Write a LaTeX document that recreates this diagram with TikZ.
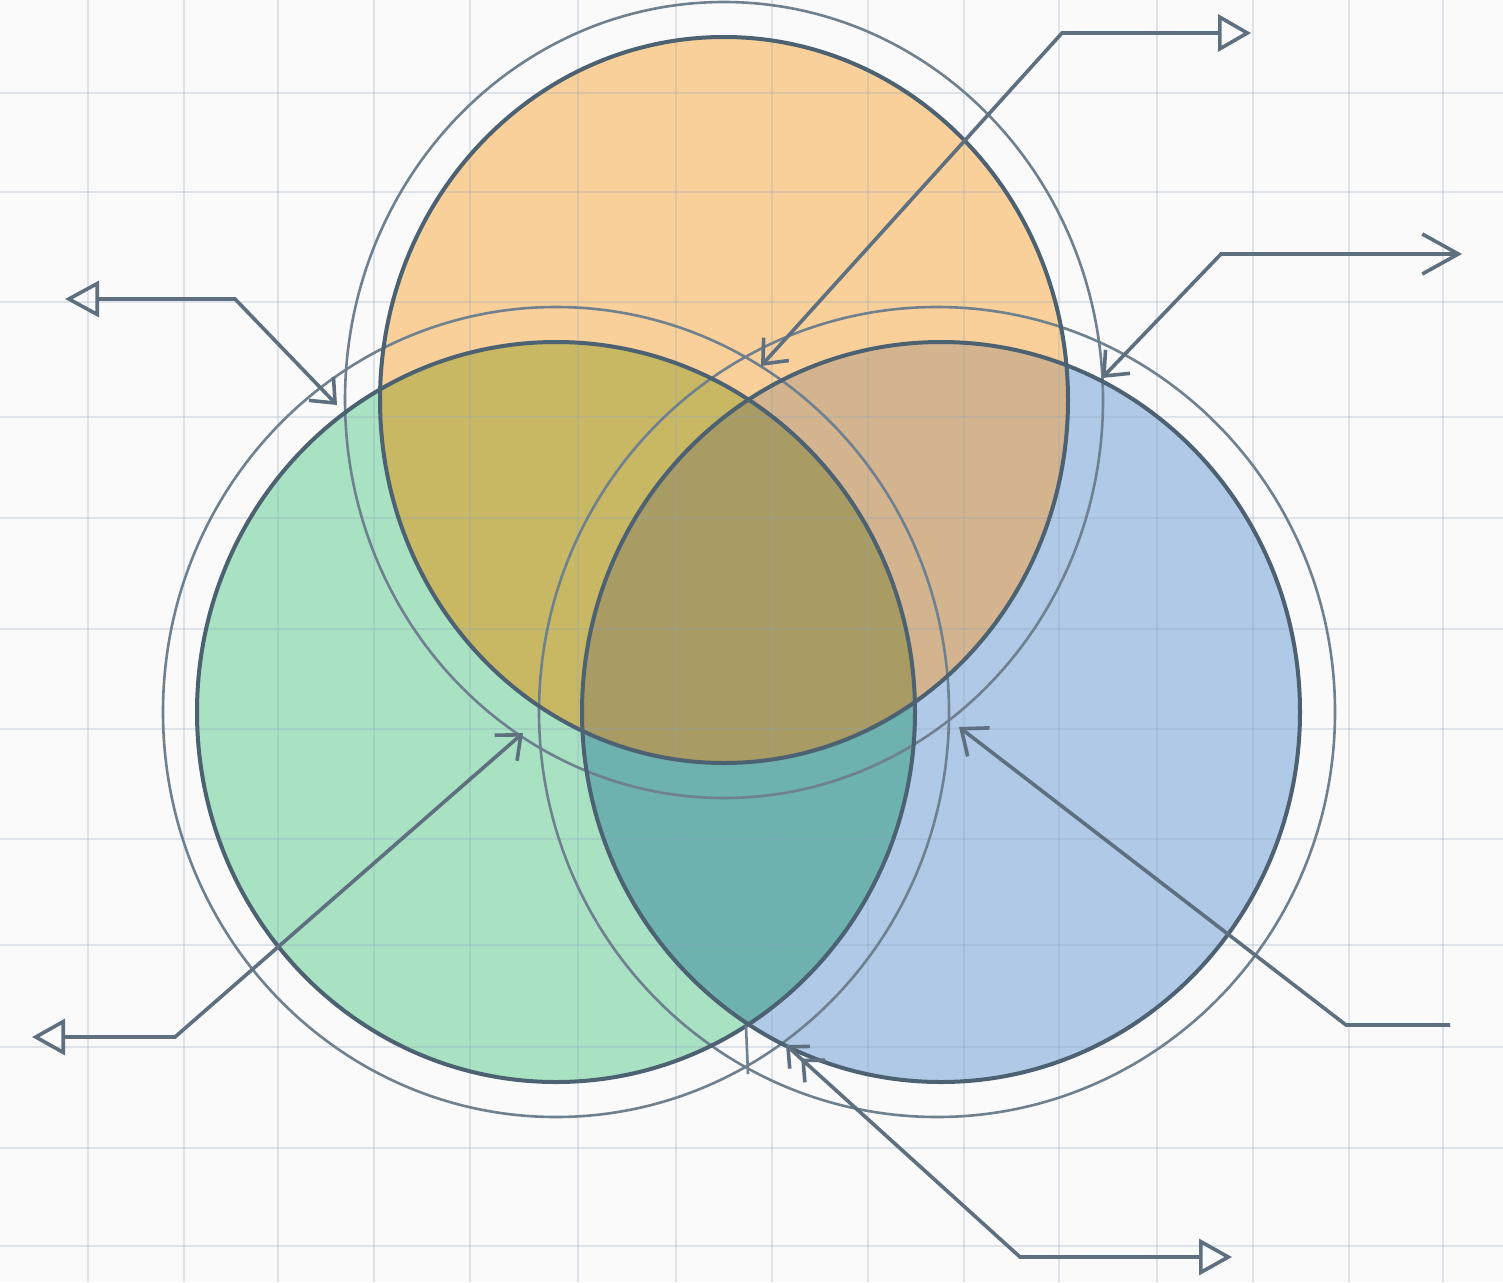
\documentclass[tikz,border=0pt]{standalone}
\usetikzlibrary{arrows.meta}
\definecolor{bgc}{HTML}{FAFAFA}
\definecolor{gridc}{HTML}{8FA3BC}
\definecolor{cOr}{HTML}{F9D09A}
\definecolor{cGr}{HTML}{A8E2C3}
\definecolor{cBl}{HTML}{B0C9E6}
\definecolor{cOG}{HTML}{C8B864}
\definecolor{cOB}{HTML}{D4B48F}
\definecolor{cGB}{HTML}{6DB2AF}
\definecolor{cOGB}{HTML}{A89B63}
\definecolor{edgec}{HTML}{4C6272}
\definecolor{ringc}{HTML}{6F808F}
\definecolor{connc}{HTML}{5E7080}
\tikzset{
  gridline/.style={draw=gridc, opacity=0.26, line width=1.6pt},
  edge/.style={draw=edgec, line width=4pt},
  ring/.style={draw=ringc, line width=2.6pt},
  conn/.style={draw=connc, line width=3.6pt, line join=miter},
}
\begin{document}
\begin{tikzpicture}[x=1pt,y=-1pt]
\useasboundingbox (0,0) rectangle (1503,1282);
\fill[bgc] (0,0) rectangle (1503,1282);

\coordinate (cO) at (724,400);
\coordinate (cG) at (556,712);
\coordinate (cB) at (941,712);
\coordinate (rO) at (724,400);
\coordinate (rG) at (556,712);
\coordinate (rB) at (937,712);

% base fills
\fill[cGr] (cG) ellipse [x radius=359pt, y radius=370pt];
\fill[cBl] (cB) ellipse [x radius=359pt, y radius=370pt];
\fill[cOr] (cO) ellipse [x radius=344pt, y radius=363pt];
% overlaps
\begin{scope}
  \clip (cG) ellipse [x radius=359pt, y radius=370pt];
  \fill[cGB] (cB) ellipse [x radius=359pt, y radius=370pt];
\end{scope}
\begin{scope}
  \clip (cO) ellipse [x radius=344pt, y radius=363pt];
  \fill[cOG] (cG) ellipse [x radius=359pt, y radius=370pt];
\end{scope}
\begin{scope}
  \clip (cO) ellipse [x radius=344pt, y radius=363pt];
  \fill[cOB] (cB) ellipse [x radius=359pt, y radius=370pt];
\end{scope}
\begin{scope}
  \clip (cO) ellipse [x radius=344pt, y radius=363pt];
  \clip (cG) ellipse [x radius=359pt, y radius=370pt];
  \fill[cOGB] (cB) ellipse [x radius=359pt, y radius=370pt];
\end{scope}

% grid
\foreach \gx in {88,184,278,374,470,578,676,772,868,964,1059,1157,1253,1349,1443}
  \draw[gridline] (\gx,0) -- (\gx,1282);
\foreach \gy in {93,192,302,417,518,629,729,839,945,1047,1148,1246}
  \draw[gridline] (0,\gy) -- (1503,\gy);

% rings
\draw[ring] (rO) ellipse [x radius=379pt, y radius=398pt];
\draw[ring] (rG) ellipse [x radius=393pt, y radius=405pt];
\draw[ring] (rB) ellipse [x radius=398pt, y radius=405pt];

% circle outlines
\draw[edge] (cG) ellipse [x radius=359pt, y radius=370pt];
\draw[edge] (cB) ellipse [x radius=359pt, y radius=370pt];
\draw[edge] (cO) ellipse [x radius=344pt, y radius=363pt];

% connectors
\coordinate (a1) at (761,366);
\coordinate (a1c) at (1062,33);
\coordinate (a1e) at (1251,33);
\draw[conn, {Straight Barb[length=20pt,width=34pt]}-{Triangle[open,length=33pt,width=37pt]}] (a1) -- (a1c) -- (a1e);

\coordinate (a2) at (1102,378);
\coordinate (a2c) at (1221,254);
\coordinate (a2e) at (1462,254);
\draw[conn, {Straight Barb[length=20pt,width=34pt]}-{Straight Barb[length=36pt,width=40pt]}] (a2) -- (a2c) -- (a2e);

\coordinate (a3) at (337,405);
\coordinate (a3c) at (235,299);
\coordinate (a3e) at (65,299);
\draw[conn, {Straight Barb[length=20pt,width=34pt]}-{Triangle[open,length=34pt,width=36pt]}] (a3) -- (a3c) -- (a3e);

\coordinate (a4) at (523,733);
\coordinate (a4c) at (175,1037);
\coordinate (a4e) at (32,1037);
\draw[conn, {Straight Barb[length=20pt,width=34pt]}-{Triangle[open,length=33pt,width=36pt]}] (a4) -- (a4c) -- (a4e);

\coordinate (a5) at (959,727);
\coordinate (a5c) at (1346,1025);
\coordinate (a5e) at (1450,1025);
\draw[conn, {Straight Barb[length=22pt,width=36pt]}-] (a5) -- (a5c) -- (a5e);

\coordinate (a6) at (786,1045);
\coordinate (a6c) at (1020,1257);
\coordinate (a6e) at (1232,1257);
\draw[conn, {Straight Barb[length=16pt,width=30pt] Straight Barb[length=16pt,width=30pt]}-{Triangle[open,length=33pt,width=36pt]}] (a6) -- (a6c) -- (a6e);

\coordinate (a7) at (746,1026);
\coordinate (a7e) at (748,1074);
\draw[ring] (a7) -- (a7e);
\end{tikzpicture}
\end{document}
